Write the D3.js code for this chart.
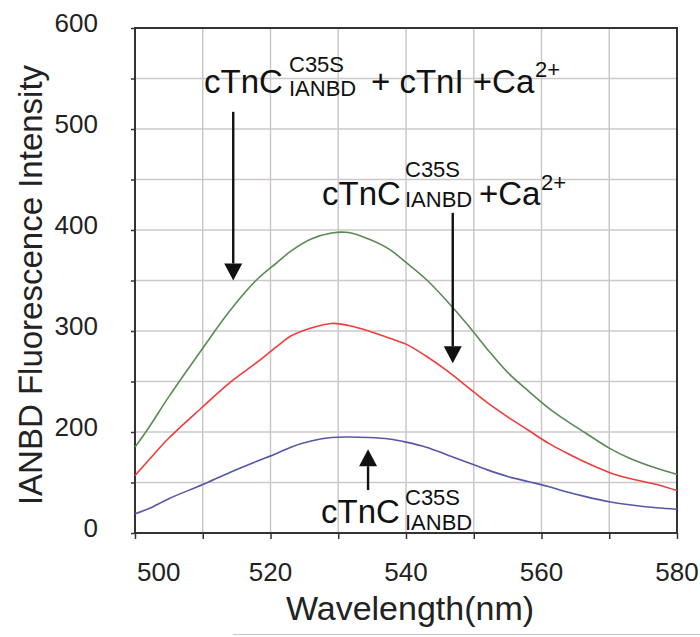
<!DOCTYPE html>
<html>
<head>
<meta charset="utf-8">
<script src="https://cdn.jsdelivr.net/npm/d3@7"></script>
<style>
  html, body { margin: 0; padding: 0; background: #fff; }
  svg { display: block; font-family: "Liberation Sans", Arial, Helvetica, sans-serif; }
</style>
</head>
<body>
<svg id="chart" width="700" height="637"></svg>
<script>
// ---------------- DATA ----------------
const wavelengths = [500, 502, 505, 510, 514, 518, 521, 523, 526, 529, 531.5, 534.5, 537.5, 540,
                     543, 546, 549, 552, 555, 558, 561, 563.5, 566.5, 570, 573, 577, 580];
// cTnC(C35S, IANBD) + cTnI + Ca2+
const seriesTnI = [185, 204, 235, 283, 320, 351, 368, 379, 391, 397, 397.5, 391, 381, 368,
                   351, 330, 307, 282, 259, 241, 224, 212, 199, 184, 174, 164, 158];
// cTnC(C35S, IANBD) + Ca2+
const seriesCa = [157, 172, 194, 225, 249, 269, 285, 295, 303, 307.5, 305.5, 300, 293, 287,
                  275, 261, 245, 229, 215, 202, 189, 180, 170, 160, 154, 148, 142];
// cTnC(C35S, IANBD)
const seriesApo = [119, 124, 134, 148, 160, 171, 179, 185, 191, 194.5, 195, 194.5, 193, 190,
                   185, 177.5, 170, 162.5, 156, 151, 146, 141, 136, 131, 128, 125, 123.5];

const xTickValues = [500, 520, 540, 560, 580];
const xTickLabels = ["500", "520", "540", "560", "580"];
const yTickValues = [100, 200, 300, 400, 500, 600];
const yTickLabels = ["0", "200", "300", "400", "500", "600"];

const xTitle = "Wavelength(nm)";
const yTitle = "IANBD Fluorescence Intensity";

(function () {
// ---------------- LAYOUT ----------------
const svg = d3.select("#chart");
const pL = 135, pT = 28, pR = 677, pB = 533;

const x = d3.scaleLinear().domain([500, 580]).range([pL, pR]);
const y = d3.scaleLinear().domain([100, 600]).range([pB, pT]);

const gridColor = "#cdc8c8";
const axisColor = "#333";

// Gridlines
svg.append("g").selectAll("line")
  .data(d3.range(100, 601, 50))
  .join("line")
  .attr("x1", pL).attr("x2", pR)
  .attr("y1", d => y(d)).attr("y2", d => y(d))
  .attr("stroke", gridColor).attr("stroke-width", 1.5);

svg.append("g").selectAll("line")
  .data(d3.range(510, 580, 10))
  .join("line")
  .attr("x1", d => x(d)).attr("x2", d => x(d))
  .attr("y1", pT).attr("y2", pB)
  .attr("stroke", gridColor).attr("stroke-width", 1.5);

// Axes (ticks)
const xAxis = d3.axisBottom(x).tickValues(d3.range(500, 581, 10)).tickSize(6).tickFormat("");
const gx = svg.append("g").attr("transform", `translate(0,${pB})`).call(xAxis);
gx.select(".domain").remove();
gx.selectAll(".tick line").attr("stroke", axisColor).attr("stroke-width", 1.5);

const yAxis = d3.axisLeft(y).tickValues(d3.range(100, 601, 50)).tickSize(4).tickFormat("");
const gy = svg.append("g").attr("transform", `translate(${pL},0)`).call(yAxis);
gy.select(".domain").remove();
gy.selectAll(".tick line").attr("stroke", axisColor).attr("stroke-width", 1.5);

// Tick labels
svg.append("g").selectAll("text")
  .data(xTickValues)
  .join("text")
  .attr("x", (d, i) => i === 0 ? x(d) + 2 : x(d))
  .attr("y", 581)
  .attr("text-anchor", (d, i) => i === 0 ? "start" : "middle")
  .attr("font-size", 26)
  .attr("fill", "#222")
  .text((d, i) => xTickLabels[i]);

svg.append("g").selectAll("text")
  .data(yTickValues)
  .join("text")
  .attr("x", 98)
  .attr("y", d => y(d) + 4)
  .attr("text-anchor", "end")
  .attr("font-size", 26)
  .attr("fill", "#222")
  .text((d, i) => yTickLabels[i]);

// Frame
svg.append("rect")
  .attr("x", pL).attr("y", pT)
  .attr("width", pR - pL).attr("height", pB - pT)
  .attr("fill", "none").attr("stroke", axisColor).attr("stroke-width", 2);

// Lines
const line = d3.line()
  .x((d, i) => x(wavelengths[i]))
  .y(d => y(d))
  .curve(d3.curveCatmullRom.alpha(0.5));

const series = [
  { values: seriesTnI, color: "#5b8a57" },
  { values: seriesCa, color: "#f03c3c" },
  { values: seriesApo, color: "#5558a8" }
];
svg.append("g").selectAll("path")
  .data(series)
  .join("path")
  .attr("d", d => line(d.values))
  .attr("fill", "none")
  .attr("stroke", d => d.color)
  .attr("stroke-width", 1.6);

// Axis titles
svg.append("text")
  .attr("x", 410).attr("y", 620)
  .attr("text-anchor", "middle")
  .attr("font-size", 34)
  .attr("fill", "#222")
  .text(xTitle);

svg.append("text")
  .attr("transform", "translate(42,285) rotate(-90)")
  .attr("text-anchor", "middle")
  .attr("font-size", 33)
  .attr("fill", "#222")
  .text(yTitle);

// Annotations
const big = 33, small = 22;
function label(parts) {
  const g = svg.append("g").attr("fill", "#111");
  parts.forEach(p => {
    g.append("text").attr("x", p.x).attr("y", p.y)
      .attr("font-size", p.s).text(p.t);
  });
}
label([
  { t: "cTnC", x: 204, y: 93, s: big },
  { t: "C35S", x: 289, y: 72, s: small },
  { t: "IANBD", x: 289, y: 96, s: small },
  { t: "+ cTnI +Ca", x: 371, y: 93, s: big },
  { t: "2+", x: 535, y: 77, s: small }
]);
label([
  { t: "cTnC", x: 322, y: 205, s: big },
  { t: "C35S", x: 405, y: 177, s: small },
  { t: "IANBD", x: 405, y: 207, s: small },
  { t: "+Ca", x: 479, y: 205, s: big },
  { t: "2+", x: 541, y: 190, s: small }
]);
label([
  { t: "cTnC", x: 321, y: 523, s: big },
  { t: "C35S", x: 405, y: 505, s: small },
  { t: "IANBD", x: 405, y: 530, s: small }
]);

// Arrows (in data coordinates)
const arrows = [
  { wl: 514.5, from: 517, to: 350 },
  { wl: 546.9, from: 417, to: 268 },
  { wl: 534.4, from: 142.5, to: 183 }
];
arrows.forEach(a => {
  const ax = x(a.wl), y1 = y(a.from), y2 = y(a.to);
  const dir = y2 > y1 ? 1 : -1;
  const headLen = 17, headW = 9;
  svg.append("line")
    .attr("x1", ax).attr("x2", ax)
    .attr("y1", y1).attr("y2", y2 - dir * headLen)
    .attr("stroke", "#111").attr("stroke-width", 2.4);
  svg.append("path")
    .attr("d", `M${ax - headW},${y2 - dir * headLen} L${ax + headW},${y2 - dir * headLen} L${ax},${y2} Z`)
    .attr("fill", "#111");
});

// faint rule at bottom
svg.append("line")
  .attr("x1", 233).attr("x2", 700)
  .attr("y1", 634.5).attr("y2", 634.5)
  .attr("stroke", "#c8c8c8").attr("stroke-width", 1);
})();
</script>
</body>
</html>
